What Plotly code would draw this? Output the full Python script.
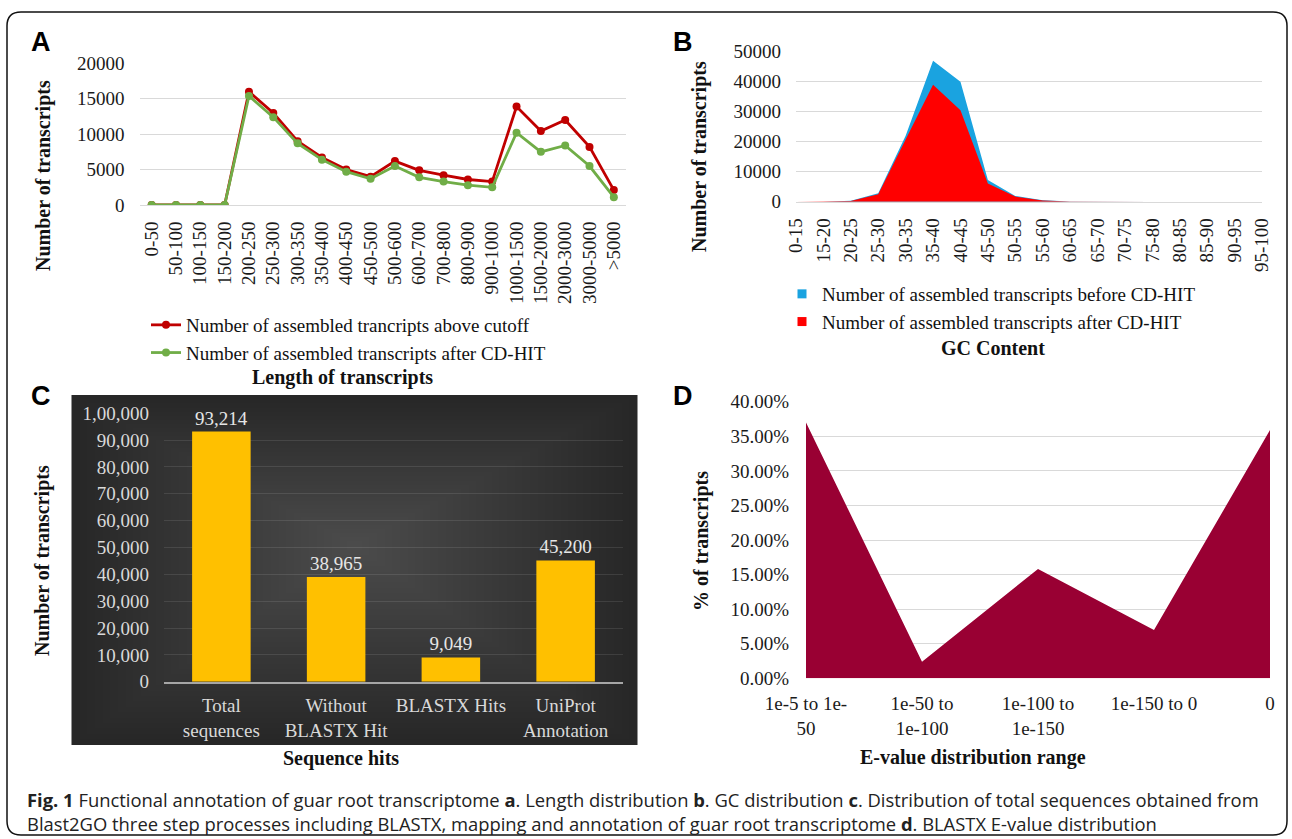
import plotly.graph_objects as go

W, H = 1292, 839
def px(x): return x / W
def py(y): return 1 - y / H

SERIF = "Liberation Serif"
SANS = "Liberation Sans"

# ---------------- Panel A data ----------------
len_bins = ["0-50", "50-100", "100-150", "150-200", "200-250", "250-300", "300-350",
            "350-400", "400-450", "450-500", "500-600", "600-700", "700-800", "800-900",
            "900-1000", "1000-1500", "1500-2000", "2000-3000", "3000-5000", ">5000"]
above_cutoff = [0, 0, 0, 0, 16000, 13000, 9000, 6700, 5000, 4000, 6200, 4900, 4200, 3600,
                3300, 13900, 10450, 12000, 8200, 2100]
after_cdhit_len = [0, 0, 0, 0, 15400, 12400, 8700, 6400, 4700, 3700, 5500, 3900, 3300, 2800,
                   2500, 10200, 7500, 8400, 5500, 1100]

# ---------------- Panel B data ----------------
gc_bins = ["0-15", "15-20", "20-25", "25-30", "30-35", "35-40", "40-45", "45-50", "50-55",
           "55-60", "60-65", "65-70", "70-75", "75-80", "80-85", "85-90", "90-95", "95-100"]
gc_before = [0, 0, 300, 2800, 22000, 47000, 40000, 7200, 1900, 500, 100, 0, 0, 0, 0, 0, 0, 0]
gc_after = [0, 0, 200, 2500, 20500, 39000, 30500, 6100, 1700, 400, 100, 0, 0, 0, 0, 0, 0, 0]

# ---------------- Panel C data ----------------
hit_cats = ["Total<br>sequences", "Without<br>BLASTX Hit", "BLASTX Hits", "UniProt<br>Annotation"]
hit_vals = [93214, 38965, 9049, 45200]
c_tickvals = [0, 10000, 20000, 30000, 40000, 50000, 60000, 70000, 80000, 90000, 100000]
c_ticktext = ["0", "10,000", "20,000", "30,000", "40,000", "50,000", "60,000", "70,000",
              "80,000", "90,000", "1,00,000"]

# ---------------- Panel D data ----------------
ev_cats = ["1e-5 to 1e-<br>50", "1e-50 to<br>1e-100", "1e-100 to<br>1e-150", "1e-150 to 0", "0"]
ev_vals = [0.370, 0.024, 0.158, 0.070, 0.359]

fig = go.Figure()

# A
fig.add_trace(go.Scatter(x=len_bins, y=above_cutoff, mode="lines+markers",
                         name="Number of assembled trancripts above cutoff",
                         line=dict(color="#C00000", width=2.8),
                         marker=dict(size=8, color="#C00000"),
                         xaxis="x", yaxis="y", legend="legend"))
fig.add_trace(go.Scatter(x=len_bins, y=after_cdhit_len, mode="lines+markers",
                         name="Number of assembled transcripts after CD-HIT",
                         line=dict(color="#70AD47", width=2.8),
                         marker=dict(size=8, color="#70AD47"),
                         xaxis="x", yaxis="y", legend="legend"))

# B
fig.add_trace(go.Scatter(x=gc_bins, y=gc_before, mode="lines", fill="tozeroy",
                         line=dict(width=0, color="#1AA3E0"), fillcolor="#1AA3E0",
                         showlegend=False, xaxis="x2", yaxis="y2"))
fig.add_trace(go.Scatter(x=gc_bins, y=gc_after, mode="lines", fill="tozeroy",
                         line=dict(width=0, color="#FF0000"), fillcolor="#FF0000",
                         showlegend=False, xaxis="x2", yaxis="y2"))
fig.add_trace(go.Scatter(x=[None], y=[None], mode="markers",
                         marker=dict(symbol="square", size=9, color="#1AA3E0"),
                         name="Number of assembled transcripts before CD-HIT",
                         xaxis="x2", yaxis="y2", legend="legend2"))
fig.add_trace(go.Scatter(x=[None], y=[None], mode="markers",
                         marker=dict(symbol="square", size=9, color="#FF0000"),
                         name="Number of assembled transcripts after CD-HIT",
                         xaxis="x2", yaxis="y2", legend="legend2"))

# C
fig.add_trace(go.Bar(x=hit_cats, y=hit_vals, marker=dict(color="#FFC000", line=dict(width=0)),
                     text=[f"{v:,}" for v in hit_vals], textposition="outside",
                     textfont=dict(family=SERIF, size=19, color="#E6E6E6"),
                     cliponaxis=False, showlegend=False, xaxis="x3", yaxis="y3"))

# D
fig.add_trace(go.Scatter(x=ev_cats, y=ev_vals, mode="lines", fill="tozeroy",
                         line=dict(width=0, color="#990033"), fillcolor="#990033",
                         showlegend=False, xaxis="x4", yaxis="y4"))

tickfont = dict(family=SERIF, size=19, color="#1a1a1a")
grid = "#D9D9D9"

shapes = []
# Panel C dark background with radial-ish gradient
cx0, cx1, cy0, cy1 = 71.5, 637.5, 395, 745
shapes.append(dict(type="rect", xref="paper", yref="paper", x0=px(cx0), x1=px(cx1),
                   y0=py(cy1), y1=py(cy0), fillcolor="#272727", line=dict(width=0), layer="below"))
ccx, ccy = (cx0 + cx1) / 2, 545
n = 36
for i in range(1, n + 1):
    f = 1 - i / (n + 1)
    hw = (cx1 - cx0) / 2 * f
    hh_top = (ccy - cy0) * f
    hh_bot = (cy1 - ccy) * f
    shapes.append(dict(type="rect", xref="paper", yref="paper",
                       x0=px(ccx - hw), x1=px(ccx + hw), y0=py(ccy + hh_bot), y1=py(ccy - hh_top),
                       fillcolor="rgba(255,255,255,0.0085)", line=dict(width=0), layer="below"))

# rounded outer border
bx0, by0, bx1, by1, r = 7, 12, 1287, 835, 14
rx, ry = r / W, r / H
X0, X1, Y0, Y1 = px(bx0), px(bx1), py(by1), py(by0)
path = (f"M {X0+rx},{Y1} L {X1-rx},{Y1} Q {X1},{Y1} {X1},{Y1-ry} "
        f"L {X1},{Y0+ry} Q {X1},{Y0} {X1-rx},{Y0} L {X0+rx},{Y0} Q {X0},{Y0} {X0},{Y0+ry} "
        f"L {X0},{Y1-ry} Q {X0},{Y1} {X0+rx},{Y1} Z")
shapes.append(dict(type="path", xref="paper", yref="paper", path=path,
                   line=dict(color="#111", width=1.5)))

ann = []
def title(text, x, y, angle=0, size=20):
    ann.append(dict(text=f"<b>{text}</b>", x=px(x), y=py(y), xref="paper", yref="paper",
                    showarrow=False, textangle=angle, xanchor="center", yanchor="middle",
                    font=dict(family=SERIF, size=size, color="#111")))

title("Number of transcripts", 43, 176, -90)
title("Length of transcripts", 342, 377)
title("Number of transcripts", 700, 157, -90)
title("GC Content", 993, 348)
title("Number of transcripts", 42, 561, -90)
title("Sequence hits", 341, 758)
title("% of transcripts", 701, 541, -90)
title("E-value distribution range", 973, 757)

for lab, x, y in [("A", 41, 42), ("B", 683, 42), ("C", 41, 396), ("D", 683, 396)]:
    ann.append(dict(text=f"<b>{lab}</b>", x=px(x), y=py(y), xref="paper", yref="paper",
                    showarrow=False, xanchor="center", yanchor="middle",
                    font=dict(family=SANS, size=27, color="#000")))

caption = ("<b>Fig. 1</b> Functional annotation of guar root transcriptome <b>a</b>. Length distribution "
           "<b>b</b>. GC distribution <b>c</b>. Distribution of total sequences obtained from<br>"
           "Blast2GO three step processes including BLASTX, mapping and annotation of guar root "
           "transcriptome <b>d</b>. BLASTX E-value distribution")
ann.append(dict(text=caption, x=px(25), y=py(785), xref="paper", yref="paper", showarrow=False,
                xanchor="left", yanchor="top", align="left",
                font=dict(family="Open Sans", size=18.4, color="#222")))

def xax(**kw):
    d = dict(automargin=False, type="category", showgrid=False, ticks="")
    d.update(kw)
    return d

def yax(**kw):
    d = dict(automargin=False, zeroline=False, showline=False, ticks="")
    d.update(kw)
    return d

fig.update_layout(
    width=W, height=H, margin=dict(l=0, r=0, t=0, b=0, autoexpand=False),
    paper_bgcolor="white", plot_bgcolor="rgba(0,0,0,0)",
    bargap=0.49, shapes=shapes, annotations=ann, hovermode=False,
    xaxis=xax(domain=[px(139.5), px(626)], anchor="y", range=[-0.5, 19.5],
              tickangle=-90, tickfont=tickfont, showline=True,
              linecolor=grid, linewidth=1, ticklabelstandoff=8),
    yaxis=yax(domain=[py(205), py(63.3)], anchor="x", range=[0, 20000], dtick=5000,
              tickformat="d", tickfont=tickfont, gridcolor=grid, ticklabelstandoff=14),
    xaxis2=xax(domain=[px(796), px(1262)], anchor="y2", range=[0, 17],
               tickangle=-90, tickfont=tickfont, showline=True,
               linecolor=grid, linewidth=1, ticklabelstandoff=8),
    yaxis2=yax(domain=[py(201.7), py(51.7)], anchor="x2", range=[0, 50000], dtick=10000,
               tickformat="d", tickfont=tickfont, gridcolor=grid, ticklabelstandoff=14),
    xaxis3=xax(domain=[px(164), px(623)], anchor="y3", range=[-0.5, 3.5],
               tickfont=dict(family=SERIF, size=19, color="#D9D9D9"),
               showline=True, linecolor="#A6A6A6", linewidth=1.5, ticklabelstandoff=6),
    yaxis3=yax(domain=[py(681.7), py(413.3)], anchor="x3", range=[0, 100000],
               tickvals=c_tickvals, ticktext=c_ticktext,
               tickfont=dict(family=SERIF, size=19, color="#D9D9D9"),
               gridcolor="rgba(255,255,255,0.10)", ticklabelstandoff=14),
    xaxis4=xax(domain=[px(806), px(1270)], anchor="y4", range=[0, 4],
               tickfont=tickfont, showline=False, ticklabelstandoff=12),
    yaxis4=yax(domain=[py(678.3), py(401.7)], anchor="x4", range=[0, 0.40], dtick=0.05,
               tickformat=".2%", tickfont=tickfont, gridcolor=grid, ticklabelstandoff=16),
    legend=dict(x=px(146), y=py(306), xanchor="left", yanchor="top",
                font=dict(family=SERIF, size=19, color="#111"), bgcolor="rgba(0,0,0,0)",
                itemwidth=30, tracegroupgap=0),
    legend2=dict(x=px(782), y=py(275), xanchor="left", yanchor="top",
                 font=dict(family=SERIF, size=19, color="#111"), bgcolor="rgba(0,0,0,0)",
                 itemwidth=30, tracegroupgap=0),
)

fig.write_html("out.html", config={"displayModeBar": False},
               post_script="document.body.style.margin='0';document.body.style.overflow='hidden';")
